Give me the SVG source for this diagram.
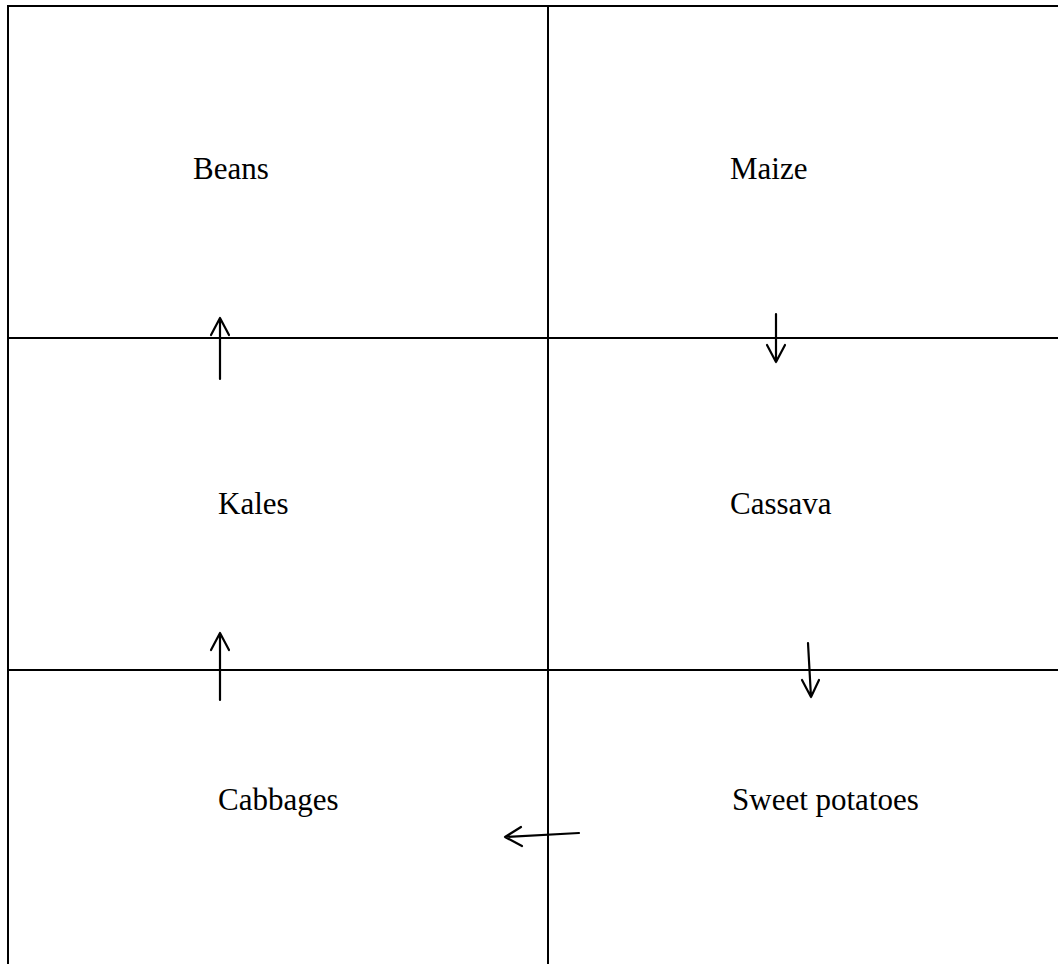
<svg xmlns="http://www.w3.org/2000/svg" width="1058" height="964" viewBox="0 0 1058 964">
<style>
.grid{stroke:#000;stroke-width:2;fill:none}
.arr{stroke:#000;stroke-width:2.2;fill:none;stroke-linecap:round;stroke-linejoin:round}
text{font-family:"Liberation Serif","Times New Roman",serif;font-size:31px;fill:#000}
</style>
<rect width="1058" height="964" fill="#fff"/>
<g id="grid">
<line class="grid" x1="8" y1="6" x2="1058" y2="6"/>
<line class="grid" x1="8" y1="5" x2="8" y2="964"/>
<line class="grid" x1="548" y1="6" x2="548" y2="964"/>
<line class="grid" x1="8" y1="338" x2="1058" y2="338"/>
<line class="grid" x1="8" y1="670" x2="1058" y2="670"/>
</g>
<g id="beans"><text x="193" y="179">Beans</text></g>
<g id="maize"><text x="730" y="179">Maize</text></g>
<g id="kales"><text x="218" y="514">Kales</text></g>
<g id="cassava"><text x="730" y="514">Cassava</text></g>
<g id="cabbages"><text x="218" y="810">Cabbages</text></g>
<g id="sweet-potatoes"><text x="732" y="810">Sweet potatoes</text></g>
<g id="connectors">
<path class="arr" d="M220 379 L220 318 M211 335 L220 318 L229 335"/>
<path class="arr" d="M776 314 L776 362 M767 345 L776 362 L785 345"/>
<path class="arr" d="M808 643 L811 697 M802 680 L811 697 L819 680"/>
<path class="arr" d="M220 700 L220 633 M211 650 L220 633 L229 650"/>
<path class="arr" d="M579 833 L505 837 M521 827 L505 837 L522 846"/>
</g>
</svg>
